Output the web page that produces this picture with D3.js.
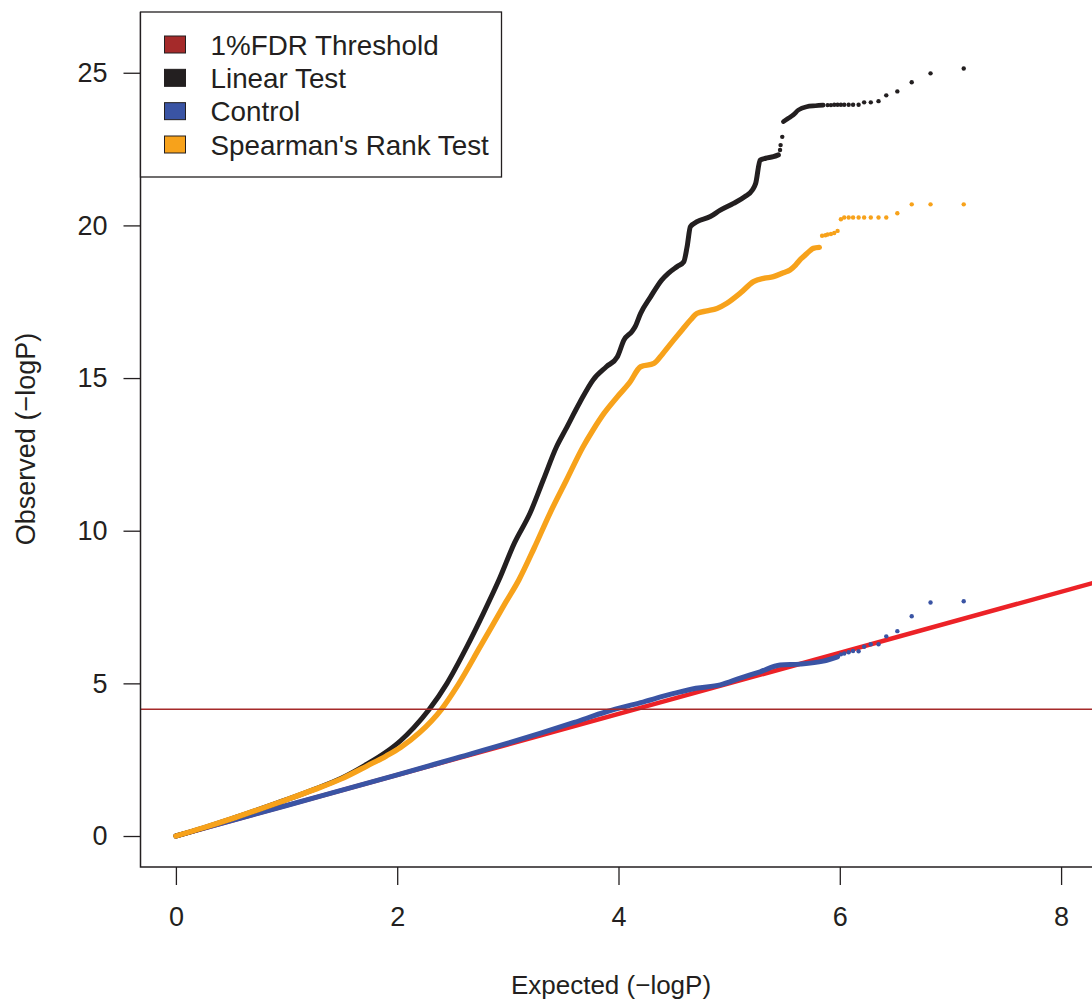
<!DOCTYPE html>
<html>
<head>
<meta charset="utf-8">
<script src="https://cdn.jsdelivr.net/npm/d3@7"></script>
<style>
  html, body { margin: 0; padding: 0; background: #ffffff; }
  svg { display: block; }
  text { font-family: "Liberation Sans", Arial, Helvetica, sans-serif; fill: #231f20; }
</style>
</head>
<body>
<svg id="chart" width="1092" height="1001"></svg>
<script>
// ---------------- data ----------------
const xTicks = [0, 2, 4, 6, 8];
const yTicks = [0, 5, 10, 15, 20, 25];
const fdrThreshold = 4.15;

const legendLabels = ["1%FDR Threshold", "Linear Test", "Control", "Spearman's Rank Test"];
const legendColors = ["#a52a2a", "#231f20", "#3a54a4", "#f7a21b"];

// Linear test (dense band, part A)
const linearX = [0, 0.25, 0.5, 0.75, 1.0, 1.25, 1.5, 1.73, 1.9, 2.03, 2.15, 2.29, 2.45, 2.63, 2.78, 2.92, 3.06, 3.20, 3.32, 3.44, 3.52, 3.65, 3.77, 3.89, 3.99, 4.05, 4.12, 4.15, 4.20, 4.29, 4.39, 4.45, 4.53, 4.59, 4.62, 4.65, 4.71, 4.83, 4.92, 5.04, 5.14, 5.21, 5.24, 5.28, 5.33, 5.40, 5.445];
const linearY = [0, 0.27, 0.56, 0.87, 1.19, 1.53, 1.9, 2.36, 2.75, 3.12, 3.55, 4.15, 5.0, 6.2, 7.3, 8.39, 9.6, 10.57, 11.66, 12.75, 13.3, 14.2, 14.94, 15.37, 15.7, 16.25, 16.52, 16.68, 17.12, 17.66, 18.21, 18.43, 18.65, 18.81, 19.3, 19.96, 20.12, 20.29, 20.5, 20.72, 20.94, 21.16, 21.38, 22.14, 22.2, 22.25, 22.31];
// Linear test (dense band, part B)
const linear2X = [5.49, 5.535, 5.58, 5.626, 5.70, 5.78, 5.85];
const linear2Y = [23.40, 23.51, 23.62, 23.78, 23.89, 23.92, 23.94];
// Linear test (sparse points)
const linearDotX = [5.46, 5.465, 5.48, 5.89, 5.92, 5.95, 5.98, 6.01, 6.04, 6.08, 6.12, 6.17, 6.22, 6.28, 6.35, 6.42, 6.52, 6.65, 6.82, 7.12];
const linearDotY = [22.47, 22.63, 22.9, 23.94, 23.94, 23.95, 23.95, 23.95, 23.95, 23.95, 23.95, 23.95, 24.03, 24.03, 24.07, 24.26, 24.39, 24.69, 24.98, 25.14];

// Spearman's rank test (dense band)
const spearmanX = [0, 0.25, 0.5, 0.75, 1.0, 1.25, 1.5, 1.73, 1.9, 2.03, 2.2, 2.40, 2.55, 2.75, 2.98, 3.10, 3.24, 3.38, 3.53, 3.68, 3.77, 3.87, 3.99, 4.10, 4.20, 4.32, 4.40, 4.50, 4.58, 4.65, 4.71, 4.80, 4.89, 4.98, 5.10, 5.22, 5.32, 5.40, 5.49, 5.55, 5.60, 5.64, 5.67, 5.73, 5.76, 5.815];
const spearmanY = [0, 0.27, 0.56, 0.87, 1.19, 1.52, 1.88, 2.3, 2.62, 2.9, 3.38, 4.15, 4.95, 6.2, 7.65, 8.39, 9.45, 10.57, 11.66, 12.75, 13.3, 13.85, 14.39, 14.85, 15.37, 15.48, 15.8, 16.25, 16.6, 16.9, 17.12, 17.2, 17.28, 17.45, 17.78, 18.16, 18.27, 18.32, 18.45, 18.54, 18.7, 18.87, 18.97, 19.17, 19.25, 19.28];
// Spearman's rank test (sparse points)
const spearmanDotX = [5.84, 5.87, 5.89, 5.92, 5.95, 5.98, 6.01, 6.04, 6.08, 6.12, 6.17, 6.22, 6.28, 6.35, 6.42, 6.52, 6.65, 6.82, 7.12];
const spearmanDotY = [19.66, 19.68, 19.70, 19.72, 19.75, 19.82, 20.20, 20.26, 20.26, 20.26, 20.26, 20.26, 20.26, 20.26, 20.26, 20.40, 20.69, 20.69, 20.69];

// Control (dense band)
const controlX = [0, 1, 2, 2.5, 3, 3.29, 3.6, 3.89, 4.2, 4.5, 4.7, 4.92, 5.1, 5.28, 5.46, 5.64, 5.85, 5.98];
const controlY = [0, 1, 2, 2.52, 3.04, 3.36, 3.72, 4.07, 4.37, 4.67, 4.84, 4.95, 5.17, 5.38, 5.60, 5.63, 5.73, 5.87];
// Control (sparse points)
const controlDotX = [6.01, 6.04, 6.08, 6.12, 6.17, 6.22, 6.28, 6.35, 6.42, 6.52, 6.65, 6.82, 7.12];
const controlDotY = [5.95, 5.98, 6.02, 6.06, 6.05, 6.20, 6.28, 6.28, 6.54, 6.71, 7.20, 7.65, 7.69];

// ---------------- layout ----------------
const svg = d3.select("#chart");
const plot = { left: 140.5, right: 1096.5, top: 12, bottom: 867 };
const x = d3.scaleLinear().domain([-0.32, 8.32]).range([plot.left, plot.right]);
const y = d3.scaleLinear().domain([-1.015, 26.99]).range([plot.bottom, plot.top]);

const INK = "#231f20";
const FONT = "'Liberation Sans', Arial, Helvetica, sans-serif";
const zip = (xs, ys) => xs.map((v, i) => [v, ys[i]]);

svg.append("defs").append("clipPath").attr("id", "clip")
  .append("rect")
  .attr("x", plot.left).attr("y", plot.top)
  .attr("width", plot.right - plot.left).attr("height", plot.bottom - plot.top);

const g = svg.append("g").attr("clip-path", "url(#clip)");

// y = x reference line
const xd = x.domain();
g.append("line")
  .attr("x1", x(0)).attr("y1", y(0))
  .attr("x2", x(xd[1])).attr("y2", y(xd[1]))
  .attr("stroke", "#ec2227").attr("stroke-width", 4.5);

const line = d3.line().x(d => x(d[0])).y(d => y(d[1])).curve(d3.curveMonotoneX);

function band(xs, ys, color, width) {
  g.append("path").datum(zip(xs, ys))
    .attr("d", line).attr("fill", "none")
    .attr("stroke", color).attr("stroke-width", width)
    .attr("stroke-linecap", "round").attr("stroke-linejoin", "round");
}
function dots(xs, ys, color) {
  g.append("g").selectAll("circle").data(zip(xs, ys)).join("circle")
    .attr("cx", d => x(d[0])).attr("cy", d => y(d[1]))
    .attr("r", 2.2).attr("fill", color);
}

band(controlX, controlY, "#3a54a4", 5);
dots(controlDotX, controlDotY, "#3a54a4");

band(linearX, linearY, INK, 5);
band(linear2X, linear2Y, INK, 4.6);
dots(linearDotX, linearDotY, INK);

band(spearmanX, spearmanY, "#f7a21b", 5.4);
dots(spearmanDotX, spearmanDotY, "#f7a21b");

// FDR threshold
g.append("line")
  .attr("x1", plot.left).attr("x2", plot.right)
  .attr("y1", y(fdrThreshold)).attr("y2", y(fdrThreshold))
  .attr("stroke", "#a52a2a").attr("stroke-width", 1.6);

// ---------------- axes ----------------
const xAxis = d3.axisBottom(x).tickValues(xTicks).tickSize(18).tickPadding(22).tickFormat(d3.format("d"));
const gx = svg.append("g").attr("transform", `translate(0,${plot.bottom})`).call(xAxis);
gx.select(".domain").remove();
gx.selectAll(".tick line").attr("stroke", INK).attr("stroke-width", 1.3);
gx.selectAll(".tick text").attr("font-size", 27).attr("fill", INK).attr("font-family", FONT);

const yAxis = d3.axisLeft(y).tickValues(yTicks).tickSize(17).tickPadding(16).tickFormat(d3.format("d"));
const gy = svg.append("g").attr("transform", `translate(${plot.left},0)`).call(yAxis);
gy.select(".domain").remove();
gy.selectAll(".tick line").attr("stroke", INK).attr("stroke-width", 1.3);
gy.selectAll(".tick text").attr("font-size", 27).attr("fill", INK).attr("font-family", FONT);

// L-shaped box
svg.append("path")
  .attr("d", `M${plot.left},${plot.top}V${plot.bottom}H${plot.right}`)
  .attr("fill", "none").attr("stroke", INK).attr("stroke-width", 1.5);

// axis titles
svg.append("text")
  .attr("x", 611).attr("y", 994)
  .attr("text-anchor", "middle").attr("font-size", 26)
  .text("Expected (\u2212logP)");
svg.append("text")
  .attr("transform", "translate(35,439) rotate(-90)")
  .attr("text-anchor", "middle").attr("font-size", 27)
  .text("Observed (\u2212logP)");

// ---------------- legend ----------------
const lg = svg.append("g");
lg.append("rect")
  .attr("x", 140.5).attr("y", 12).attr("width", 361).attr("height", 165)
  .attr("fill", "#ffffff").attr("stroke", INK).attr("stroke-width", 1.3);
const rowY = d3.scaleLinear().domain([0, 3]).range([44.5, 144.5]);
legendLabels.forEach((lab, i) => {
  lg.append("rect")
    .attr("x", 164.5).attr("y", rowY(i) - 8.5)
    .attr("width", 21).attr("height", 17)
    .attr("fill", legendColors[i]).attr("stroke", INK).attr("stroke-width", 1);
  lg.append("text")
    .attr("x", 210.5).attr("y", rowY(i) + 10)
    .attr("font-size", 27.8)
    .text(lab);
});
</script>
</body>
</html>
